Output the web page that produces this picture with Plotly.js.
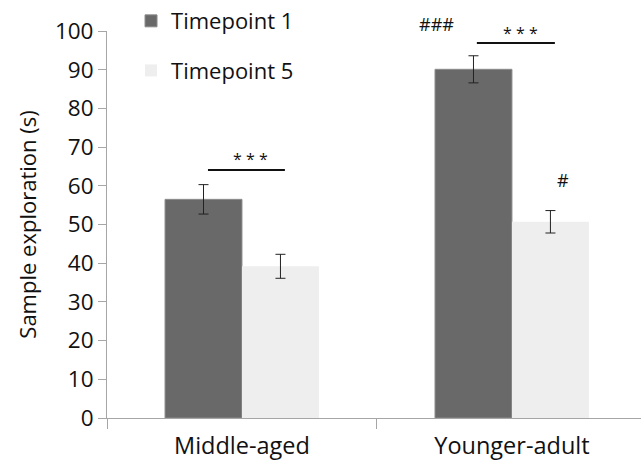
<!DOCTYPE html>
<html>
<head>
<meta charset="utf-8">
<script src="https://cdn.plot.ly/plotly-3.0.1.min.js"></script>
<style>html,body{margin:0;padding:0;background:#fff;}#chart{width:641px;height:462px;}</style>
</head>
<body>
<div id="chart"></div>
<script>
var categories = ['Middle-aged', 'Younger-adult'];
var timepoint1 = [56.5, 90.1];
var timepoint1Err = [3.8, 3.5];
var timepoint5 = [39.2, 50.7];
var timepoint5Err = [3.1, 2.9];
var seriesNames = ['Timepoint 1', 'Timepoint 5'];
var yTicks = [0, 10, 20, 30, 40, 50, 60, 70, 80, 90, 100];

var FONT = '"Open Sans", "Noto Sans", sans-serif';

var traces = [
  {
    type: 'bar', name: seriesNames[0], x: categories, y: timepoint1,
    legendgroup: 'a',
    marker: {color: '#696969', line: {color: '#8c8c8c', width: 1}},
    error_y: {type: 'data', array: timepoint1Err, visible: true, color: '#222', thickness: 1, width: 5}
  },
  {
    type: 'bar', name: seriesNames[1], x: categories, y: timepoint5,
    legendgroup: 'b',
    marker: {color: '#eeeeee', line: {color: '#eeeeee', width: 0}},
    error_y: {type: 'data', array: timepoint5Err, visible: true, color: '#222', thickness: 1, width: 5}
  }
];

var layout = {
  width: 641, height: 462,
  margin: {l: 107, r: 0, t: 31, b: 44},
  paper_bgcolor: '#fff', plot_bgcolor: '#fff',
  barmode: 'group', bargap: 0.43, bargroupgap: 0,
  font: {family: FONT, color: '#111'},
  showlegend: true,
  legend: {
    x: 0.045, xanchor: 'left', y: 1.08, yanchor: 'top',
    traceorder: 'grouped', tracegroupgap: 18,
    font: {size: 22, family: FONT, color: '#111'},
    bgcolor: 'rgba(0,0,0,0)'
  },
  xaxis: {
    type: 'category', range: [-0.5, 1.478],
    showline: true, linecolor: '#a6a6a6', linewidth: 1,
    ticks: 'outside', tickson: 'boundaries', ticklen: 10, tickcolor: '#a6a6a6',
    ticklabelstandoff: 7,
    tickfont: {size: 23.5, family: FONT, color: '#111'},
    showgrid: false, zeroline: false, fixedrange: true
  },
  yaxis: {
    range: [0, 100], tickvals: yTicks,
    showline: true, linecolor: '#a6a6a6', linewidth: 1,
    ticks: 'outside', ticklen: 8, tickcolor: '#a6a6a6',
    tickfont: {size: 22.5, family: FONT, color: '#111'},
    showgrid: false, zeroline: false,
    title: {text: 'Sample exploration (s)', font: {size: 22, family: FONT, color: '#111'}, standoff: 12}
  },
  shapes: [
    {type: 'line', xref: 'x', yref: 'y', x0: -0.126, x1: 0.159, y0: 64.1, y1: 64.1, line: {color: '#111', width: 2}},
    {type: 'line', xref: 'x', yref: 'y', x0: 0.870, x1: 1.159, y0: 96.9, y1: 96.9, line: {color: '#111', width: 2}}
  ],
  annotations: [
    {xref: 'x', yref: 'y', x: 0.033, y: 67.0, text: '* * *', showarrow: false, font: {size: 16, family: FONT, color: '#111'}},
    {xref: 'x', yref: 'y', x: 1.03, y: 99.6, text: '* * *', showarrow: false, font: {size: 16, family: FONT, color: '#111'}},
    {xref: 'x', yref: 'paper', x: 0.722, y: 1.018, yanchor: 'middle', text: '###', showarrow: false, font: {size: 18, family: FONT, color: '#111'}},
    {xref: 'x', yref: 'y', x: 1.189, y: 61.5, text: '#', showarrow: false, font: {size: 18, family: FONT, color: '#111'}}
  ]
};

Plotly.newPlot('chart', traces, layout, {displayModeBar: false, staticPlot: true});
</script>
</body>
</html>
